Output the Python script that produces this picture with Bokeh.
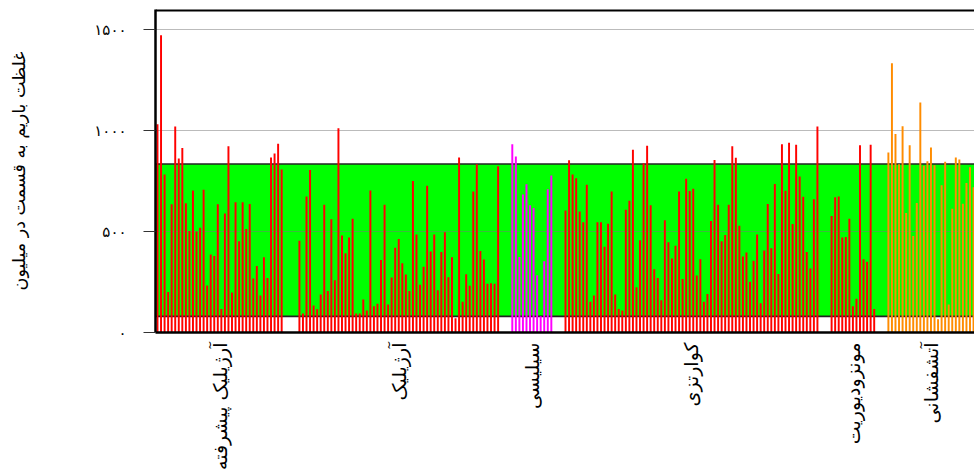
import math
from bokeh.plotting import figure
from bokeh.models import (ColumnDataSource, Range1d, FixedTicker, BoxAnnotation, Span)
from bokeh.embed import file_html
from bokeh.resources import INLINE

# ---- data ----
groups = ["آرژیلیک پیشرفته", "آرژیلیک", "سیلیسی", "کوارتزی", "مونزودیوریت", "آتشفشانی"]
group_colors = ["#ff0000", "#ff0000", "#ff00ff", "#ff0000", "#ff0000", "#ff8c00"]

argillic_adv = [1031, 1473, 783, 201, 635, 1021, 862, 914, 640, 503, 704, 500, 519, 707, 233, 386,
                379, 635, 117, 590, 923, 198, 645, 452, 645, 513, 637, 267, 330, 183, 373, 270,
                867, 887, 935, 808]
argillic = [455, 94, 674, 805, 134, 115, 188, 633, 206, 561, 259, 1012, 480, 392, 470, 564, 94, 94,
            163, 109, 704, 130, 143, 359, 633, 139, 272, 420, 463, 343, 287, 206, 750, 486, 237, 326,
            727, 401, 486, 209, 399, 496, 274, 373, 71, 867, 152, 289, 231, 699, 834, 404, 361, 242,
            244, 241, 823]
silicic = [932, 872, 374, 683, 734, 630, 617, 284, 80, 353, 709, 778]
quartz = [604, 853, 783, 764, 599, 546, 732, 152, 183, 546, 546, 425, 539, 699, 188, 117, 109, 608,
          653, 905, 224, 457, 839, 925, 630, 313, 270, 160, 556, 447, 366, 430, 699, 265, 762, 701,
          712, 282, 363, 152, 191, 552, 854, 633, 452, 483, 633, 922, 866, 529, 376, 396, 251, 356,
          486, 145, 406, 637, 417, 735, 290, 933, 702, 940, 538, 930, 773, 673, 399, 317, 660, 1021]
monzodiorite = [577, 670, 674, 470, 473, 564, 130, 167, 927, 363, 351, 930, 117]
volcanic = [892, 1334, 983, 833, 1022, 592, 928, 478, 641, 1139, 826, 848, 917, 828, 66, 729, 846,
            139, 613, 867, 857, 638, 740, 818, 720]
series = [argillic_adv, argillic, silicic, quartz, monzodiorite, volcanic]

background_range = [80, 835]          # green band (ppm)
y_ticks = [0, 500, 1000, 1500]
y_tick_labels = ["۰", "۵۰۰", "۱۰۰۰", "۱۵۰۰"]
y_label = "غلظت باریم به قسمت در میلیون"

# ---- layout of bar slots (empty slots between groups) ----
gaps_after = [4, 3, 3, 3, 3]
xs, ys, cols = [], [], []
centers = []
pos = 0
for gi, vals in enumerate(series):
    start = pos
    for v in vals:
        xs.append(pos)
        ys.append(v)
        cols.append(group_colors[gi])
        pos += 1
    centers.append((start + pos - 1) / 2)
    if gi < len(gaps_after):
        pos += gaps_after[gi]

src = ColumnDataSource(dict(x=xs, top=ys, color=cols))

FONT = "DejaVu Sans"

p = figure(width=974, height=476, output_backend="svg", toolbar_location=None,
           x_range=Range1d(-0.56, 230.27), y_range=Range1d(0, 1600),
           min_border_left=155, min_border_right=0, min_border_top=9, min_border_bottom=144)
p.outline_line_color = None
p.background_fill_color = "white"
p.border_fill_color = "white"

band = BoxAnnotation(bottom=background_range[0], top=background_range[1],
                     fill_color="#00ff00", fill_alpha=1.0, line_color=None, level="image")
p.add_layout(band)
for b in background_range:
    p.add_layout(Span(location=b, dimension="width", line_color="#222222",
                      line_width=1.6, level="underlay"))

p.vbar(x="x", top="top", bottom=0, width=0.55, color="color", line_color=None, source=src)

p.add_layout(Span(location=1600, dimension="width", line_color="black", line_width=4,
                  level="overlay"))

p.xgrid.visible = False
p.ygrid.grid_line_color = "#777777"
p.ygrid.grid_line_dash = "1 1"
p.ygrid.grid_line_width = 1

yax = p.yaxis[0]
yax.ticker = FixedTicker(ticks=y_ticks)
yax.major_label_overrides = {t: l for t, l in zip(y_ticks, y_tick_labels)}
yax.axis_line_width = 2.5
yax.axis_line_color = "black"
yax.major_tick_out = 12
yax.major_tick_in = 0
yax.major_tick_line_color = "#333333"
yax.minor_tick_line_color = None
yax.major_label_standoff = 17
yax.major_label_text_font = FONT
yax.major_label_text_font_size = "15px"
yax.major_label_text_color = "black"
yax.axis_label = y_label
yax.axis_label_text_font = FONT
yax.axis_label_text_font_size = "17.5px"
yax.axis_label_text_font_style = "normal"
yax.axis_label_text_color = "black"
yax.axis_label_standoff = 62

xax = p.xaxis[0]
xax.ticker = FixedTicker(ticks=centers)
xax.major_label_overrides = {c: g for c, g in zip(centers, groups)}
xax.major_label_orientation = math.pi / 2
xax.axis_line_width = 2.5
xax.axis_line_color = "black"
xax.major_tick_out = 0
xax.major_tick_in = 0
xax.minor_tick_line_color = None
xax.major_label_standoff = 10
xax.major_label_text_font = FONT
xax.major_label_text_font_size = "19px"
xax.major_label_text_color = "black"

open("out.html", "w").write(file_html(p, INLINE))
